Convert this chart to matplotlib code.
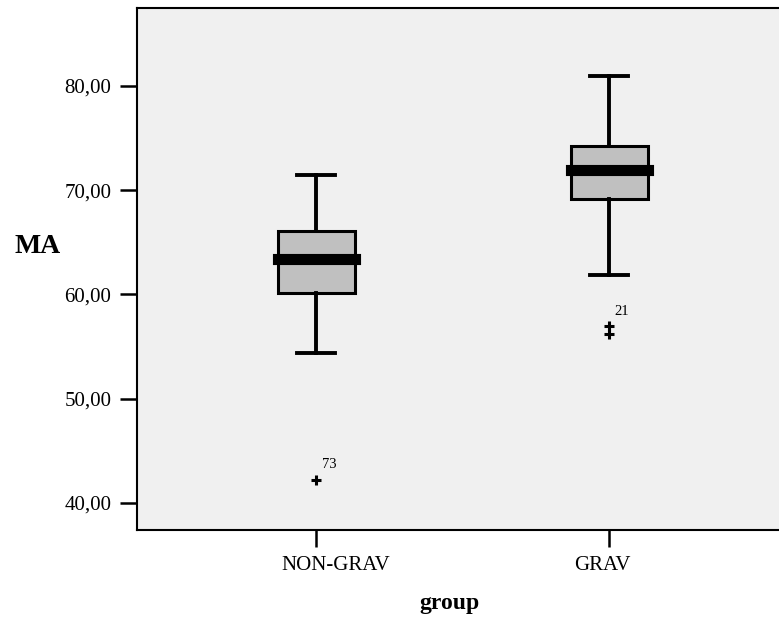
import matplotlib
matplotlib.use("Agg")
import matplotlib.pyplot as plt
from matplotlib.transforms import ScaledTranslation

# boxplot summary (MA by group)
groups = ["NON-GRAV", "GRAV"]
q1 = [60.10, 69.15]
med = [63.40, 71.95]
q3 = [66.10, 74.25]
whislo = [54.40, 61.90]
whishi = [71.45, 81.00]
fliers = [[42.25], [56.25, 56.95]]
flier_ids = ["73", "21"]
yticks = [40, 50, 60, 70, 80]

plt.rcParams["font.family"] = ["Liberation Serif", "DejaVu Serif"]

fig = plt.figure(figsize=(7.79, 6.24), dpi=100)
ax = fig.add_axes([137 / 779, 94 / 624, 642 / 779, 522 / 624])
ax.set_facecolor("#f0f0f0")

stats = []
for i, g in enumerate(groups):
    stats.append(dict(label=g, q1=q1[i], med=med[i], q3=q3[i],
                      whislo=whislo[i], whishi=whishi[i], fliers=fliers[i]))

pos = [1, 2]
ax.bxp(stats, positions=pos, widths=0.263, capwidths=0.13, patch_artist=True,
       showfliers=True,
       boxprops=dict(facecolor="#c0c0c0", edgecolor="black", linewidth=2.2),
       medianprops=dict(color="black", linewidth=8, solid_capstyle="projecting"),
       whiskerprops=dict(color="black", linewidth=2.8),
       capprops=dict(color="black", linewidth=2.8),
       flierprops=dict(marker="+", markersize=6.5, markeredgewidth=2.2,
                       markeredgecolor="black"))

# label only the most extreme outlier in each group
for p, f, lab in zip(pos, fliers, flier_ids):
    ax.annotate(lab, (p, max(f) if lab == "21" else min(f)),
                xytext=(4, 6), textcoords="offset points",
                fontsize=10.5, ha="left", va="bottom")

ax.set_xlim(0.389, 2.58)
ax.set_ylim(37.41, 87.48)
ax.set_yticks(yticks)
ax.set_yticklabels([f"{v:.2f}".replace(".", ",") for v in yticks])
ax.set_xticks(pos)
ax.set_xticklabels(groups)
ax.tick_params(axis="both", length=12.5, width=1.8, labelsize=15, pad=6)

shifts = [20, -7]
for t, dx in zip(ax.get_xticklabels(), shifts):
    t.set_transform(t.get_transform() + ScaledTranslation(dx / 100, 0, fig.dpi_scale_trans))

for s in ["left", "top", "bottom"]:
    ax.spines[s].set_linewidth(1.5)
ax.spines["right"].set_visible(False)

fig.text(38 / 779, 1 - 247 / 624, "MA", fontsize=20, fontweight="bold",
         ha="center", va="center")
fig.text(449.5 / 779, 1 - 609 / 624, "group", fontsize=17, fontweight="bold",
         ha="center", va="baseline")

fig.savefig("out.png", dpi=100)
